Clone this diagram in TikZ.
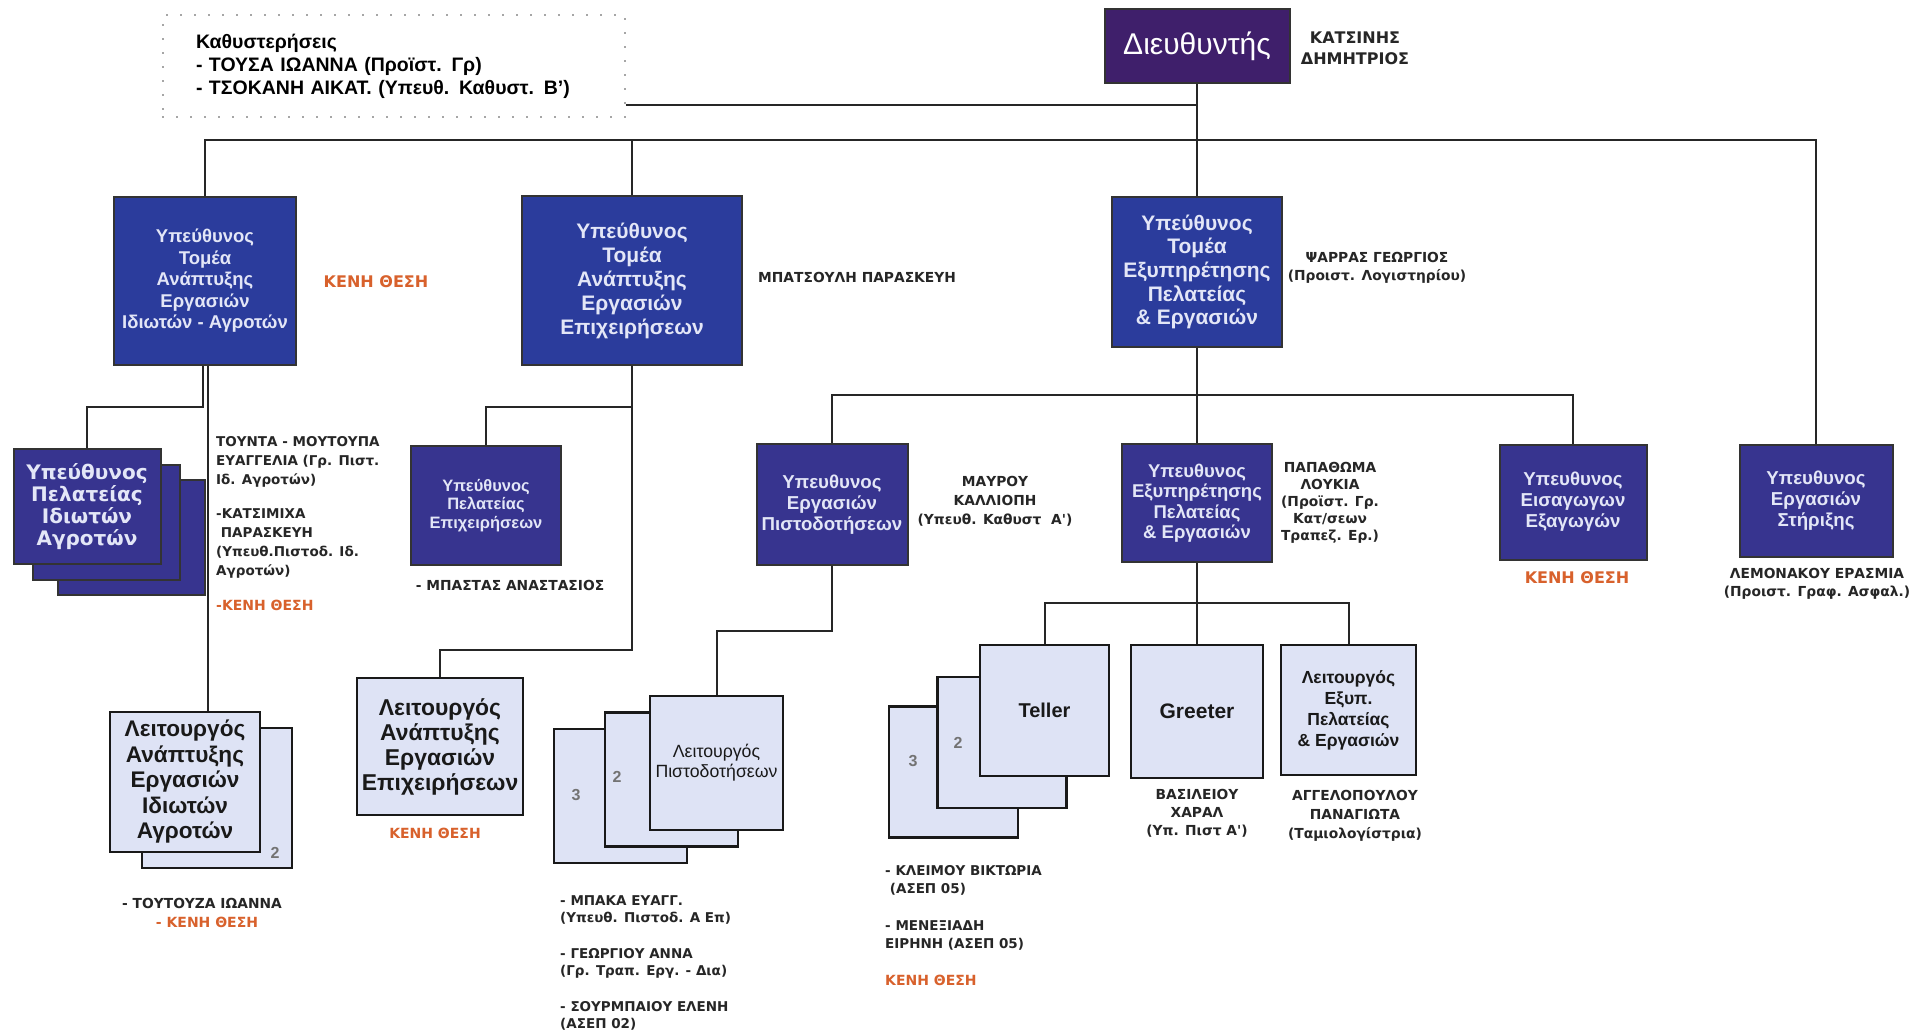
\documentclass[tikz,border=0pt]{standalone}
\usepackage{fontspec}
\setmainfont{Liberation Sans}
\newfontfamily\namefont{DejaVu Sans}
\definecolor{dirpurple}{HTML}{3F1F6B}
\definecolor{topblue}{HTML}{2B3C9C}
\definecolor{subblue}{HTML}{37348F}
\definecolor{paleblue}{HTML}{DEE3F5}
\definecolor{boxtext}{HTML}{E3E6F7}
\definecolor{vacant}{HTML}{D8612C}
\begin{document}
\begin{tikzpicture}[x=1pt,y=-1pt,
  link/.style={draw=black!85,line width=2pt},
  notebox/.style={draw=black!70,line width=1.8pt,dash pattern=on 0pt off 14pt,line cap=round,
    text width=396pt,align=left,inner xsep=33pt,minimum height=102pt,
    font=\bfseries\fontsize{19.5}{23}\selectfont},
  dirbox/.style={draw=black!80,line width=2pt,fill=dirpurple,text=white,
    minimum width=185pt,minimum height=74pt,font=\fontsize{30}{34}\selectfont},
  topbox/.style={draw=black!80,line width=2pt,fill=topblue,text=boxtext,align=center,
    inner sep=0pt,font=\bfseries\fontsize{21}{24}\selectfont},
  subbox/.style={topbox,fill=subblue,font=\bfseries\fontsize{18.7}{21}\selectfont},
  palebox/.style={draw=black!90,line width=2.5pt,fill=paleblue,text=black!90,align=center,
    inner sep=0pt,font=\bfseries\fontsize{21}{24}\selectfont},
  who/.style={align=center,text=black!85,inner sep=0pt,font=\namefont\bfseries\fontsize{13.8}{18}\selectfont},
  vacancy/.style={who,text=vacant,font=\namefont\bfseries\fontsize{14}{18}\selectfont},
  stacknum/.style={text=black!55,font=\bfseries\fontsize{16}{16}\selectfont}]
\useasboundingbox[fill=white] (0,0) rectangle (1919,1034);

% note and director
\node[notebox] (note) at (394,66) {Καθυστερήσεις\\- ΤΟΥΣΑ ΙΩΑΝΝΑ (Προϊστ. Γρ)\\- ΤΣΟΚΑΝΗ ΑΙΚΑΤ. (Υπευθ. Καθυστ. Β')};
\node[dirbox] (dir) at (1197,46) {Διευθυντής};
\node[who,font=\namefont\bfseries\fontsize{16}{21}\selectfont] (dirname) at (1355,48) {ΚΑΤΣΙΝΗΣ\\ΔΗΜΗΤΡΙΟΣ};

% sector heads
\node[topbox,minimum width=182pt,minimum height=168pt,font=\bfseries\fontsize{18.5}{21.5}\selectfont] (t1) at (205,281)
  {Υπεύθυνος\\Τομέα\\Ανάπτυξης\\Εργασιών\\Ιδιωτών - Αγροτών};
\node[vacancy,font=\namefont\bfseries\fontsize{16}{18}\selectfont] (t1name) at (376,282) {ΚΕΝΗ ΘΕΣΗ};
\node[topbox,minimum width=220pt,minimum height=169pt] (t2) at (632,280.5)
  {Υπεύθυνος\\Τομέα\\Ανάπτυξης\\Εργασιών\\Επιχειρήσεων};
\node[who,anchor=west] (t2name) at (758,277) {ΜΠΑΤΣΟΥΛΗ ΠΑΡΑΣΚΕΥΗ};
\node[topbox,minimum width=170pt,minimum height=150pt,font=\bfseries\fontsize{21}{23.6}\selectfont] (t3) at (1197,272)
  {Υπεύθυνος\\Τομέα\\Εξυπηρέτησης\\Πελατείας\\\& Εργασιών};
\node[who] (t3name) at (1377,268) {ΨΑΡΡΑΣ ΓΕΩΡΓΙΟΣ\\(Προιστ. Λογιστηρίου)};

% under t1
\foreach \dx/\dy/\k in {44/31/3,19/16/2}
  \node[subbox,minimum width=147pt,minimum height=115pt] (ip\k) at (87+\dx,506.5+\dy) {};
\node[subbox,minimum width=147pt,minimum height=115pt,font=\namefont\bfseries\fontsize{20}{22}\selectfont] (ip) at (87,506.5)
  {Υπεύθυνος\\Πελατείας\\Ιδιωτών\\Αγροτών};
\node[who,align=left,anchor=north west,font=\namefont\bfseries\fontsize{13.5}{19}\selectfont] (ipname) at (216,436)
  {ΤΟΥΝΤΑ - ΜΟΥΤΟΥΠΑ\\ΕΥΑΓΓΕΛΙΑ (Γρ. Πιστ.\\Ιδ. Αγροτών)\\[15pt]-ΚΑΤΣΙΜΙΧΑ\\\ ΠΑΡΑΣΚΕΥΗ\\(Υπευθ.Πιστοδ. Ιδ.\\Αγροτών)\\[16pt]{\color{vacant}\fontsize{14}{19}\selectfont-ΚΕΝΗ ΘΕΣΗ}};
\node[palebox,minimum width=150pt,minimum height=140pt] (la2) at (217,798) {};
\node[stacknum] (la2num) at (275,853) {2};
\node[palebox,minimum width=150pt,minimum height=140pt,font=\bfseries\fontsize{22.6}{25.5}\selectfont] (la) at (185,782)
  {Λειτουργός\\Ανάπτυξης\\Εργασιών\\Ιδιωτών\\Αγροτών};
\node[who] (laname) at (202,903) {- ΤΟΥΤΟΥΖΑ ΙΩΑΝΝΑ};
\node[vacancy] (lavac) at (207,922) {- ΚΕΝΗ ΘΕΣΗ};

% under t2
\node[subbox,minimum width=150pt,minimum height=119pt,font=\bfseries\fontsize{16.5}{18.5}\selectfont] (pe) at (486,505.5)
  {Υπεύθυνος\\Πελατείας\\Επιχειρήσεων};
\node[who] (pename) at (510,585) {- ΜΠΑΣΤΑΣ ΑΝΑΣΤΑΣΙΟΣ};
\node[palebox,minimum width=166pt,minimum height=137pt,font=\bfseries\fontsize{22.9}{25}\selectfont] (le) at (440,746.5)
  {Λειτουργός\\Ανάπτυξης\\Εργασιών\\Επιχειρήσεων};
\node[vacancy] (levac) at (435,833) {ΚΕΝΗ ΘΕΣΗ};

% under t3
\node[subbox,minimum width=151pt,minimum height=121pt] (pis) at (832,504.5)
  {Υπευθυνος\\Εργασιών\\Πιστοδοτήσεων};
\node[who,font=\namefont\bfseries\fontsize{13.8}{19}\selectfont] (pisname) at (995,501) {ΜΑΥΡΟΥ\\ΚΑΛΛΙΟΠΗ\\(Υπευθ. Καθυστ\ \ Α')};
\node[subbox,minimum width=150pt,minimum height=118pt,font=\bfseries\fontsize{18.5}{20.5}\selectfont] (exy) at (1197,503)
  {Υπευθυνος\\Εξυπηρέτησης\\Πελατείας\\\& Εργασιών};
\node[who,font=\namefont\bfseries\fontsize{13.8}{17}\selectfont] (exyname) at (1330,503)
  {ΠΑΠΑΘΩΜΑ\\ΛΟΥΚΙΑ\\(Προϊστ. Γρ.\\Κατ/σεων\\Τραπεζ. Ερ.)};
\node[subbox,minimum width=147pt,minimum height=115pt] (eis) at (1573,502)
  {Υπευθυνος\\Εισαγωγων\\Εξαγωγών};
\node[vacancy,font=\namefont\bfseries\fontsize{16}{18}\selectfont] (eisvac) at (1577,578) {ΚΕΝΗ ΘΕΣΗ};
\node[subbox,minimum width=153pt,minimum height=112pt] (sup) at (1816,501)
  {Υπευθυνος\\Εργασιών\\Στήριξης};
\node[who] (supname) at (1817,584) {ΛΕΜΟΝΑΚΟΥ ΕΡΑΣΜΙΑ\\(Προιστ. Γραφ. Ασφαλ.)};

% under pis
\node[palebox,minimum width=133pt,minimum height=134pt] (lp3) at (620.5,796) {};
\node[palebox,minimum width=133pt,minimum height=134pt] (lp2) at (671.5,779.5) {};
\node[palebox,minimum width=133pt,minimum height=134pt,font=\fontsize{17.7}{20}\selectfont] (lp) at (716.5,763)
  {Λειτουργός\\Πιστοδοτήσεων};
\node[stacknum] (lp2num) at (617,777) {2};
\node[stacknum] (lp3num) at (576,795) {3};
\node[who,align=left,anchor=north west,font=\namefont\bfseries\fontsize{13.5}{17.5}\selectfont] (lpname) at (560,895)
  {- ΜΠΑΚΑ ΕΥΑΓΓ.\\(Υπευθ. Πιστοδ. Α Επ)\\[18pt]- ΓΕΩΡΓΙΟΥ ΑΝΝΑ\\(Γρ. Τραπ. Εργ. - Δια)\\[18pt]- ΣΟΥΡΜΠΑΙΟΥ ΕΛΕΝΗ\\(ΑΣΕΠ 02)};

% under exy
\node[palebox,minimum width=129pt,minimum height=131pt] (tel3) at (953.5,772) {};
\node[palebox,minimum width=129pt,minimum height=131pt] (tel2) at (1002,742.5) {};
\node[palebox,minimum width=129pt,minimum height=131pt,font=\bfseries\fontsize{20}{24}\selectfont] (tel) at (1044.5,710.5) {Teller};
\node[stacknum] (tel2num) at (958,743) {2};
\node[stacknum] (tel3num) at (913,761) {3};
\node[palebox,minimum width=132pt,minimum height=133pt,font=\bfseries\fontsize{21}{24}\selectfont] (grt) at (1197,711.5) {Greeter};
\node[palebox,minimum width=135pt,minimum height=130pt,font=\bfseries\fontsize{17.5}{21}\selectfont] (lx) at (1348.5,710)
  {Λειτουργός\\Εξυπ.\\Πελατείας\\\& Εργασιών};
\node[who,align=left,anchor=north west,font=\namefont\bfseries\fontsize{13.5}{18.5}\selectfont] (telname) at (885,865)
  {- ΚΛΕΙΜΟΥ ΒΙΚΤΩΡΙΑ\\\ (ΑΣΕΠ 05)\\[18pt]- ΜΕΝΕΞΙΑΔΗ\\ΕΙΡΗΝΗ (ΑΣΕΠ 05)\\[18pt]{\color{vacant}\fontsize{14}{18.5}\selectfont ΚΕΝΗ ΘΕΣΗ}};
\node[who] (grtname) at (1197,813) {ΒΑΣΙΛΕΙΟΥ\\ΧΑΡΑΛ\\(Υπ. Πιστ Α')};
\node[who,font=\namefont\bfseries\fontsize{13.8}{19}\selectfont] (lxname) at (1355,816) {ΑΓΓΕΛΟΠΟΥΛΟΥ\\ΠΑΝΑΓΙΩΤΑ\\(Ταμιολογίστρια)};

% connectors
\coordinate (bus) at (1197,140);
\coordinate (j3) at (1197,395);
\coordinate (j4) at (1197,603);
\draw[link] (t1.north) |- (bus) -| (sup.north);
\draw[link] (t2.north) -- (t2.north |- bus);
\draw[link] (dir.south) -- (t3.north);
\draw[link] ([yshift=-39pt]note.east) -- ([yshift=-39pt]note.east -| dir.south);
\draw[link] ([xshift=-2pt]t1.south) -- ++(0,41) -| (ip.north);
\draw[link] ([xshift=3pt]t1.south) -- ([xshift=3pt]t1.south |- la.north);
\draw[link] (t2.south) -- ++(0,41) -| (pe.north);
\draw[link] (t2.south) -- ++(0,284) -| (le.north);
\draw[link] (t3.south) -- (exy.north);
\draw[link] (pis.north) |- (j3) -| (eis.north);
\draw[link] (pis.south) -- ++(0,65) -| (lp.north);
\draw[link] (exy.south) -- (grt.north);
\draw[link] (tel.north) |- (j4) -| (lx.north);
\end{tikzpicture}
\end{document}
